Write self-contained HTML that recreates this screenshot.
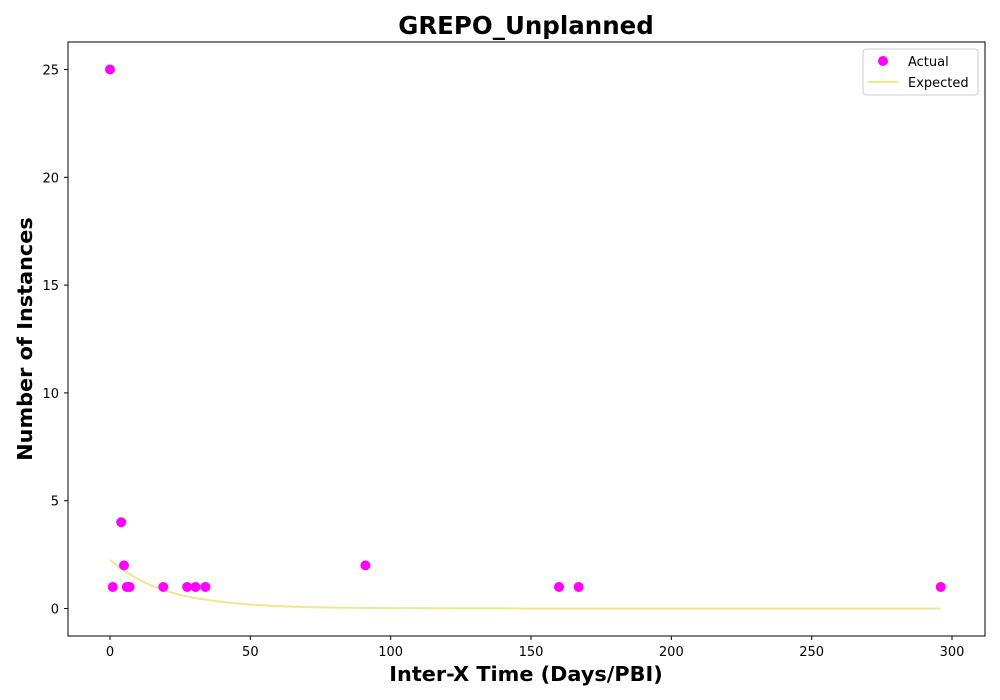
<!DOCTYPE html>
<html><head><meta charset="utf-8"><style>
body{margin:0;background:#fff;}
svg{display:block;font-family:"DejaVu Sans","Liberation Sans",sans-serif;}
</style></head><body>
<svg id="chart" width="1000" height="700">
<text x="526" y="34" text-anchor="middle" font-size="24.5" font-weight="bold">GREPO_Unplanned</text>
<rect x="68" y="42" width="917" height="594" fill="none" stroke="#000" stroke-width="1"/>
<g id="xticks"></g>
<g id="yticks"></g>
<g id="series"></g>
<text x="526" y="681" text-anchor="middle" font-size="20.8" font-weight="bold">Inter-X Time (Days/PBI)</text>
<text transform="translate(32,339) rotate(-90)" text-anchor="middle" font-size="20.8" font-weight="bold">Number of Instances</text>
<g>
<rect x="863" y="49" width="115" height="46" rx="3" fill="#fff" stroke="#ccc"/>
<circle cx="883" cy="61" r="5" fill="#ff00ff"/>
<text x="908" y="66" font-size="13">Actual</text>
<line x1="868" y1="82" x2="898" y2="82" stroke="#f0e68c" stroke-width="2"/>
<text x="908" y="87" font-size="13">Expected</text>
</g>
</svg>
<script>
const xTicks=[0,50,100,150,200,250,300];
const yTicks=[0,5,10,15,20,25];
const actualX=[0,1,4,5,6,7,19,27.5,30.5,34,91,160,167,296];
const actualY=[25,1,4,2,1,1,1,1,1,1,2,1,1,1];
const expectedX=[0,5,10,15,20,25,30,40,50,60,70,80,100,150,200,250,296];
const expectedY=[2.25,1.75,1.35,1.05,0.82,0.63,0.49,0.3,0.18,0.11,0.066,0.04,0.015,0.001,0,0,0];
const NS="http://www.w3.org/2000/svg";
const xs=v=>110+v*(952-110)/300;
const ys=v=>608.5-v*(608.5-69.5)/25;
function mk(t,a,p){const e=document.createElementNS(NS,t);for(const k in a)e.setAttribute(k,a[k]);p.appendChild(e);return e;}
const gx=document.getElementById('xticks'),gy=document.getElementById('yticks'),gs=document.getElementById('series');
xTicks.forEach(v=>{
 const l=mk('line',{x1:xs(v),x2:xs(v),y1:636,y2:640,stroke:'#000'},gx);
 
 
 const t=mk('text',{x:xs(v),y:656,'text-anchor':'middle','font-size':13},gx);t.textContent=v;
 
 
});
yTicks.forEach(v=>{
 const l=mk('line',{x1:64,x2:68,y1:ys(v),y2:ys(v),stroke:'#000'},gy);
 
 
 const t=mk('text',{x:59,y:ys(v)+5,'text-anchor':'end','font-size':13},gy);t.textContent=v;
 
 
});
const pl=mk('polyline',{points:expectedX.map((x,i)=>xs(x)+','+ys(expectedY[i])).join(' '),fill:'none',stroke:'#f0e68c','stroke-width':2},gs);


actualX.forEach((x,i)=>{
 const c=mk('circle',{cx:xs(x),cy:ys(actualY[i]),r:5,fill:'#ff00ff'},gs);
 
 
});
</script>
</body></html>
